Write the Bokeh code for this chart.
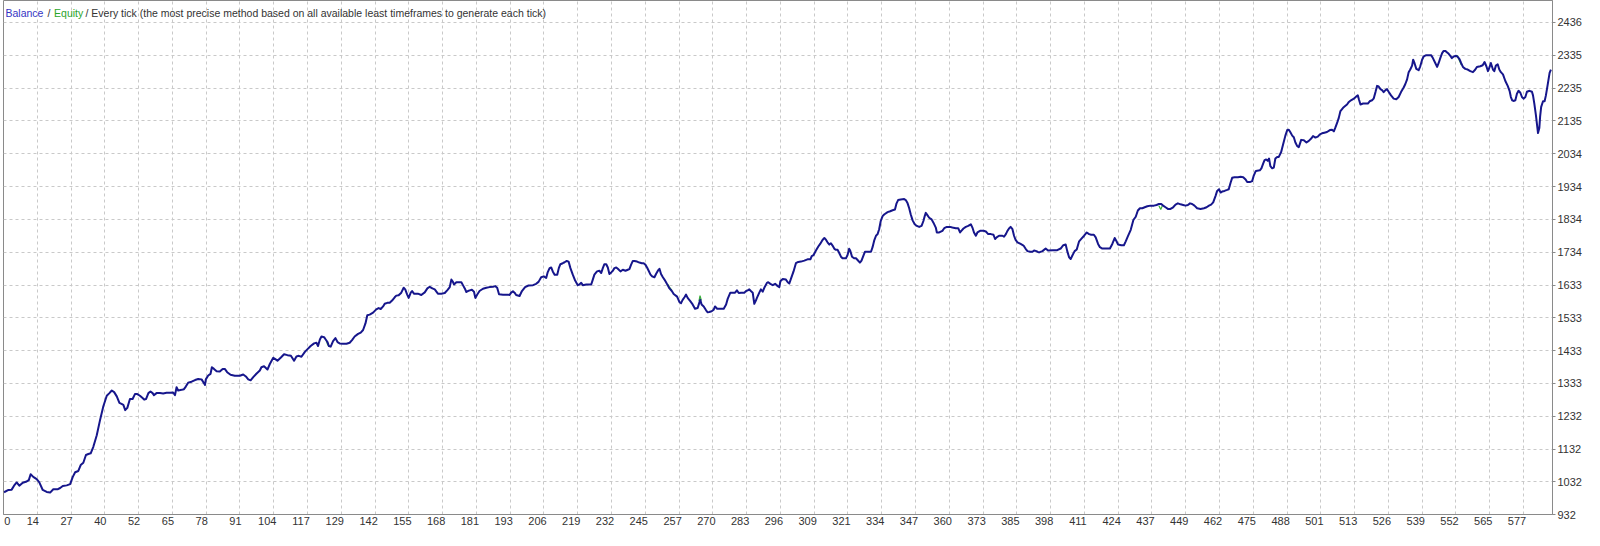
from bokeh.plotting import figure
from bokeh.models import FixedTicker, Label, Range1d
from bokeh.embed import file_html
from bokeh.resources import INLINE

# ---- data (trade number, balance) ----
trade = [
    0.2, 1.9, 3.1, 4.0, 5.0, 6.0, 7.3, 8.8, 9.6, 10.3, 11.3, 12.6, 13.6, 14.9, 16.4, 17.7, 18.9, 20.5, 21.5, 22.5,
    24.0, 25.3, 26.3, 27.2, 28.4, 29.3, 30.3, 31.3, 32.2, 33.1, 34.1, 35.4, 36.6, 37.9, 39.2, 40.2, 41.1, 42.0, 43.0,
    44.0, 44.8, 45.5, 46.2, 47.0, 48.0, 49.0, 49.9, 50.8, 51.8, 52.8, 53.4, 54.1, 55.0, 55.8, 56.6, 57.1, 58.1, 59.4,
    60.6, 61.9, 63.2, 64.4, 65.1, 65.7, 66.3, 67.6, 68.5, 69.2, 70.1, 71.4, 72.7, 73.9, 75.2, 76.1, 76.5, 76.8, 77.7,
    78.6, 79.1, 79.9, 80.9, 82.1, 83.2, 84.0, 84.9, 86.2, 87.8, 89.7, 91.0, 92.0, 92.9, 93.8, 94.8, 96.0, 97.3,
    97.9, 98.9, 100.2, 101.1, 102.4, 103.2, 104.0, 105.3, 106.5, 107.8, 109.1, 110.3, 111.2, 112.1, 113.1, 114.4,
    115.6, 116.6, 117.9, 118.8, 119.4, 120.1, 120.7, 121.7, 122.3, 123.0, 123.5, 124.2, 125.1, 126.0, 126.8, 127.6,
    128.9, 130.2, 131.4, 132.3, 133.3, 134.6, 135.6, 136.5, 137.4, 138.1, 139.0, 140.3, 141.5, 142.4, 143.2, 144.1,
    144.7, 145.7, 146.6, 147.5, 148.5, 149.1, 150.0, 151.0, 151.9, 152.5, 153.2, 153.8, 154.6, 155.1, 155.8, 157.3,
    158.6, 159.9, 160.9, 161.8, 162.8, 163.7, 164.9, 166.2, 167.5, 168.5, 169.4, 170.0, 170.6, 171.0, 171.9, 173.8,
    174.4, 175.1, 175.7, 176.3, 177.0, 177.8, 178.6, 179.1, 179.9, 180.7, 182.0, 183.3, 184.5, 185.8, 186.7, 187.4,
    188.1, 189.6, 191.5, 192.1, 192.7, 193.4, 194.0, 194.6, 195.9,
    196.8, 198.0, 199.3, 201.0, 202.2, 203.1, 204.1, 205.1, 206.0, 206.6, 207.3, 207.9, 208.5, 209.2, 210.2, 210.8,
    211.4, 212.3, 213.0, 213.8, 214.5, 215.2, 216.1, 217.0, 218.0, 218.6, 219.3, 219.9, 221.2, 223.1, 223.7, 224.3,
    225.3, 226.2, 226.9, 227.5, 228.1, 228.8, 229.4, 230.0, 230.7, 231.3, 231.9, 232.6, 233.2, 234.2, 235.1, 236.1,
    237.0, 237.6, 238.2, 238.9, 239.5, 240.5, 241.4, 242.3, 243.0, 243.7, 244.3, 244.9, 245.6, 246.2, 247.1, 247.7,
    248.4, 249.0, 249.6, 250.3, 250.9, 251.5, 252.1, 252.8, 253.7, 254.4, 255.7, 256.6, 257.2, 257.8, 258.5, 259.1,
    259.7, 260.7, 261.6, 262.5, 263.5, 264.2, 264.5, 265.0, 265.8, 266.7, 267.3, 267.9, 268.8, 269.6, 270.1, 270.9,
    271.7, 273.4, 274.3, 274.9, 275.9, 276.8, 277.7, 278.4, 279.1, 280.0, 281.2, 281.9, 282.5, 283.1, 283.7, 284.4,
    285.0, 285.6, 286.0, 286.9, 287.5, 288.2, 288.8, 289.8, 290.3, 291.1, 292.0, 292.9, 293.9, 294.5,
    294.9, 295.8, 297.0, 297.7, 298.3, 298.9, 299.9, 300.8, 301.7, 302.7, 304.0, 305.2, 306.3, 306.8, 307.5, 308.4,
    309.3, 310.0, 310.9, 311.6, 312.2, 312.8, 313.5, 314.1, 314.7, 315.4, 316.0, 316.6, 317.2, 317.9, 318.5, 319.8,
    320.4, 321.0, 321.4, 322.1, 322.9, 323.6, 324.2, 325.1, 325.7, 326.5, 327.0, 328.0, 329.3, 329.9, 330.5, 331.2,
    331.8, 332.4, 333.0, 333.7, 334.3, 335.6, 336.6, 337.5, 338.4, 339.0, 339.6, 340.6, 341.9, 342.5, 343.2, 343.8,
    344.4, 345.1, 345.9, 346.7, 347.6, 348.5, 349.2, 349.7, 350.1, 350.7, 351.4, 352.3, 353.0, 353.9, 354.3, 355.2,
    356.4, 357.1, 358.1, 359.3, 360.2, 361.5, 362.4, 363.1, 363.6, 364.4, 365.3, 366.2, 367.2, 367.8, 368.4, 369.1,
    369.7, 370.7, 372.0, 372.9, 373.8, 374.8, 375.8, 376.4, 377.0, 377.9, 379.2, 379.8, 380.5, 381.1, 381.7, 382.3,
    383.0, 383.6, 384.2, 384.9, 386.1, 387.2, 388.0, 388.7, 389.7, 390.6, 391.2, 392.1, 392.8,
    393.1, 394.4, 395.6, 396.5, 398.2, 400.0, 401.3, 402.3, 403.2, 403.8, 404.5, 405.1, 405.7, 406.6, 407.4, 408.3,
    409.2, 410.2, 411.2, 412.1, 412.9, 413.9, 414.6, 415.5, 416.2, 417.1, 418.4, 420.0, 420.9, 421.8, 422.5, 423.1,
    424.3, 425.3, 426.0, 426.8, 427.9, 428.9, 429.8, 430.6, 431.4, 432.3, 433.2, 434.2, 435.4, 436.7, 437.7, 438.6,
    439.5, 440.2, 441.1, 442.0, 443.0, 444.0, 444.9, 445.8, 446.8, 447.8, 448.7, 449.6, 450.4, 451.2, 452.1, 453.1,
    454.4, 455.7, 456.7, 457.6, 458.4, 459.2, 460.1, 460.7, 461.4, 462.0, 462.6, 463.5, 464.5, 465.1, 465.8, 466.4,
    467.3, 468.6, 469.6, 470.6, 471.5, 472.1, 473.1, 474.0, 474.6, 475.3, 475.9, 476.9, 477.5, 478.2, 478.7, 479.3,
    479.9, 480.4, 480.9, 481.6, 482.2, 482.8, 483.5, 484.1, 485.0, 485.8, 486.6, 487.3, 487.9, 488.5, 489.2, 489.8,
    490.4, 491.1, 491.7,
    492.6, 493.6, 494.6, 495.5, 496.4, 497.1, 498.0, 498.9, 499.7, 500.5, 501.4, 502.4, 503.5, 504.3, 505.0, 505.6,
    506.2, 506.9, 507.5, 508.5, 509.4, 510.0, 510.7, 511.5, 512.6, 513.6, 514.1, 514.5, 515.1, 516.1, 517.0, 517.9,
    518.6, 519.5, 520.1, 520.8, 521.4, 522.0, 522.7, 523.3, 523.9, 524.6, 525.2, 525.8, 526.7, 527.7, 528.7, 529.6,
    530.5, 531.5, 532.1, 532.8, 533.4, 534.0, 534.7, 535.1, 535.6, 536.3, 537.2, 537.8, 538.5, 539.1, 540.1, 541.0,
    541.9, 542.6, 543.5, 544.2, 544.8, 545.4, 546.1, 546.7, 547.3, 547.9, 548.6, 549.2, 549.8, 550.5, 551.4, 552.1,
    552.7, 553.3, 554.0, 554.9, 555.8, 556.8, 557.8, 558.7, 559.3, 560.6, 561.5, 562.2, 562.9, 563.5, 564.1, 564.6,
    565.4, 565.9, 566.5, 567.2, 567.8, 568.4, 569.2, 570.1, 571.0, 571.7, 572.2, 572.7, 573.2, 573.9, 574.5, 575.1,
    575.8, 576.4, 577.0, 577.7, 578.3, 579.3, 580.2, 580.6, 581.1, 581.7, 582.2, 582.5, 583.0, 583.3, 583.7, 584.4,
    585.0, 585.5, 586.1, 586.9, 587.4,
]
balance = [
    1000, 1007, 1008, 1020, 1030, 1020, 1029, 1033, 1037, 1055, 1047, 1040, 1030, 1007, 1001, 999, 1009, 1009, 1013, 1019,
    1021, 1025, 1047, 1061, 1065, 1083, 1090, 1114, 1117, 1119, 1139, 1174, 1219, 1263, 1295, 1303, 1311, 1306, 1293,
    1273, 1270, 1267, 1251, 1258, 1285, 1285, 1300, 1300, 1295, 1288, 1283, 1285, 1303, 1308, 1303, 1297, 1303, 1303,
    1302, 1304, 1304, 1305, 1297, 1321, 1311, 1313, 1315, 1323, 1335, 1338, 1343, 1346, 1345, 1333, 1328, 1345, 1357,
    1362, 1382, 1377, 1370, 1369, 1377, 1377, 1367, 1359, 1356, 1356, 1360, 1354, 1345, 1342, 1352, 1362, 1372,
    1382, 1385, 1375, 1392, 1411, 1407, 1402, 1412, 1422, 1419, 1417, 1402, 1415, 1417, 1414, 1429,
    1439, 1447, 1455, 1457, 1447, 1467, 1476, 1474, 1467, 1459, 1447, 1445, 1462, 1471, 1459, 1455,
    1454, 1454, 1457, 1465, 1476, 1484, 1488, 1496, 1516, 1541, 1543, 1549, 1559, 1563, 1560, 1568,
    1576, 1579, 1579, 1586, 1596, 1601, 1602, 1610, 1625, 1620, 1605, 1594, 1610, 1615, 1607, 1607,
    1603, 1611, 1623, 1628, 1623, 1620, 1607, 1607, 1609, 1618, 1627, 1650, 1643, 1635, 1642, 1642,
    1633, 1623, 1612, 1615, 1617, 1619, 1613, 1594, 1605, 1615, 1622, 1625, 1627, 1628, 1630, 1625,
    1605, 1604, 1604, 1603, 1610, 1614, 1610, 1603, 1600,
    1615, 1627, 1632, 1633, 1637, 1643, 1657, 1660, 1655, 1673, 1685, 1687, 1675, 1665, 1665, 1685,
    1697, 1700, 1703, 1707, 1705, 1685, 1665, 1647, 1633, 1635, 1640, 1633, 1635, 1635, 1650, 1665,
    1675, 1677, 1670, 1685, 1697, 1697, 1687, 1667, 1672, 1677, 1685, 1687, 1683, 1675, 1680, 1677,
    1680, 1682, 1695, 1707, 1707, 1705, 1702, 1700, 1700, 1695, 1687, 1677, 1665, 1660, 1657, 1667,
    1677, 1683, 1667, 1657, 1650, 1642, 1633, 1623, 1615, 1606, 1598, 1581, 1578, 1588, 1596, 1604,
    1594, 1584, 1574, 1561, 1563, 1581, 1588, 1574, 1568, 1556, 1550, 1551, 1553, 1558, 1568, 1561,
    1561, 1561, 1574, 1591, 1610, 1610, 1610, 1617, 1609, 1610, 1610, 1615, 1617, 1620, 1615, 1610,
    1576, 1586, 1594, 1610, 1620, 1613, 1625, 1640, 1642, 1637, 1633, 1637, 1630, 1627,
    1645, 1652, 1650, 1642, 1638, 1652, 1675, 1700, 1704, 1705, 1708, 1712, 1712, 1722, 1725, 1739,
    1751, 1759, 1771, 1777, 1772, 1764, 1757, 1761, 1754, 1744, 1741, 1741, 1732, 1720, 1715, 1715,
    1725, 1744, 1739, 1720, 1715, 1715, 1710, 1702, 1708, 1725, 1735, 1735, 1735, 1749, 1769, 1784,
    1789, 1804, 1829, 1844, 1849, 1856, 1859, 1862, 1864, 1883, 1893, 1895, 1896, 1893, 1883, 1868,
    1849, 1831, 1819, 1814, 1811, 1814, 1829, 1844, 1854, 1847, 1839, 1834, 1824, 1809, 1794, 1794,
    1799, 1807, 1811, 1811, 1809, 1807, 1807, 1794, 1799, 1806, 1811, 1814, 1819, 1809, 1794, 1784,
    1794, 1799, 1799, 1797, 1789, 1789, 1787, 1774, 1779, 1784, 1784, 1781, 1789, 1799, 1806, 1811,
    1804, 1784, 1771, 1764, 1759, 1754, 1744, 1737, 1735, 1735, 1739, 1737, 1734,
    1733, 1737, 1745, 1739, 1740, 1740, 1745, 1755, 1757, 1737, 1718, 1713, 1723, 1737, 1742, 1767,
    1775, 1784, 1794, 1789, 1787, 1787, 1779, 1759, 1749, 1745, 1745, 1745, 1759, 1777, 1767, 1757,
    1755, 1755, 1767, 1782, 1802, 1832, 1842, 1861, 1868, 1868, 1871, 1874, 1876, 1876, 1878, 1881,
    1881, 1876, 1871, 1866, 1866, 1871, 1879, 1883, 1880, 1878, 1876, 1878, 1883, 1881, 1876, 1868,
    1866, 1868, 1871, 1876, 1879, 1886, 1906, 1921, 1926, 1916, 1919, 1921, 1924, 1926, 1946, 1961,
    1963, 1963, 1964, 1963, 1956, 1948, 1948, 1951, 1968, 1981, 1983, 1984, 1990, 2005, 2015, 2017,
    2013, 2020, 1997, 1990, 1992, 2020, 2025, 2025, 2040, 2065, 2090, 2107, 2108, 2100, 2090, 2085,
    2069, 2058, 2055,
    2077, 2076, 2069, 2074, 2081, 2089, 2084, 2087, 2094, 2097, 2099, 2101, 2107, 2108, 2103, 2115,
    2128, 2145, 2165, 2175, 2181, 2185, 2193, 2198, 2203, 2210, 2213, 2201, 2185, 2188, 2188, 2188,
    2195, 2198, 2203, 2223, 2242, 2240, 2232, 2229, 2223, 2229, 2232, 2224, 2213, 2203, 2201, 2208,
    2223, 2237, 2247, 2262, 2284, 2292, 2304, 2322, 2312, 2294, 2290, 2302, 2322, 2332, 2336, 2336,
    2336, 2327, 2312, 2300, 2312, 2327, 2342, 2349, 2349, 2345, 2340, 2334, 2327, 2332, 2334, 2330,
    2324, 2312, 2300, 2294, 2292, 2287, 2284, 2292, 2300, 2302, 2305, 2315, 2302, 2287, 2299, 2312,
    2292, 2287, 2304, 2308, 2292, 2284, 2277, 2257, 2242, 2227, 2208, 2198, 2196, 2198, 2218, 2227,
    2221, 2208, 2203, 2208, 2224, 2227, 2224, 2213, 2188, 2153, 2118, 2098, 2113, 2148, 2178, 2195,
    2195, 2213, 2242, 2282, 2292,
]

# equity only shows where it departs from the balance line
equity_trade = [[122.6, 123.0, 123.5], [252.1, 252.8, 253.7], [264.0, 264.4, 264.9], [438.6, 439.3, 439.9], [551.8, 552.6, 553.4]]
equity_value = [[1462, 1452, 1447], [1636, 1627, 1617], [1584, 1601, 1586], [1876, 1864, 1876], [2336, 2320, 2306]]

x_labels = ["0", "14", "27", "40", "52", "65", "78", "91", "104", "117", "129", "142", "155", "168", "181", "193",
            "206", "219", "232", "245", "257", "270", "283", "296", "309", "321", "334", "347", "360", "373", "385",
            "398", "411", "424", "437", "449", "462", "475", "488", "501", "513", "526", "539", "552", "565", "577"]
y_labels = [932, 1032, 1132, 1232, 1333, 1433, 1533, 1633, 1734, 1834, 1934, 2034, 2135, 2235, 2335, 2436]

legend_parts = ["Balance", "/", "Equity", "/ Every tick (the most precise method based on all available least timeframes to generate each tick)"]
legend_colors = ["#3434c4", "#333333", "#2aa52a", "#333333"]

# ---- layout ----
W, H = 1584, 530
LEFT, RIGHT, BOTTOM = 3, 30, 16
X0, X1 = 0, 588
Y0, Y1 = 932, 2503
FONT = "Liberation Sans"

p = figure(width=W, height=H, output_backend="svg", toolbar_location=None,
           x_range=Range1d(X0, X1), y_range=Range1d(Y0, Y1), y_axis_location="right",
           min_border_left=LEFT, min_border_top=0, min_border_right=RIGHT, min_border_bottom=BOTTOM)
p.background_fill_color = "white"
p.border_fill_color = "white"
p.outline_line_color = "#8a8a8a"

ppu = (W - LEFT - RIGHT) / (X1 - X0)
step = float(x_labels[-1]) / (len(x_labels) - 1)
grid_pos = [i * step for i in range(len(x_labels))]
label_pos = []
for i, lab in enumerate(x_labels):
    if i == 0:
        label_pos.append(round(1.4, 3))
    else:
        label_pos.append(round(grid_pos[i] - (2.0 * len(lab) + 0.5) / ppu, 3))

p.xaxis.ticker = FixedTicker(ticks=label_pos)
p.xaxis.major_label_overrides = {pos: lab for pos, lab in zip(label_pos, x_labels)}
p.xgrid.ticker = FixedTicker(ticks=grid_pos)
p.yaxis.ticker = FixedTicker(ticks=y_labels)
p.yaxis.major_label_overrides = {v: str(v) for v in y_labels}
p.ygrid.ticker = FixedTicker(ticks=y_labels)

for g in (p.xgrid, p.ygrid):
    g.grid_line_color = "#c9c9c9"
    g.grid_line_dash = "3 3"
    g.grid_line_width = 1

for ax in (p.xaxis, p.yaxis):
    ax.axis_line_color = "#8a8a8a"
    ax.major_label_text_font = FONT
    ax.major_label_text_font_size = "11px"
    ax.major_label_text_color = "#333333"
    ax.minor_tick_line_color = None
    ax.axis_label_standoff = 0
p.xaxis.major_tick_out = 0
p.xaxis.major_tick_in = 0
p.xaxis.major_label_standoff = 2
p.yaxis.major_tick_line_color = "#8a8a8a"
p.yaxis.major_tick_out = 3
p.yaxis.major_tick_in = 0
p.yaxis.major_label_standoff = 2

p.multi_line(equity_trade, equity_value, line_color="#39b039", line_width=1.2)
p.line(trade, balance, line_color="#16168c", line_width=2, line_join="round")

# title line
frame_h = H - BOTTOM
xs = [2, 44, 50.6, 82]
for txt, col, x in zip(legend_parts, legend_colors, xs):
    p.add_layout(Label(x=x, y=frame_h - 12, x_units="screen", y_units="screen", text=txt,
                       text_font=FONT, text_font_size="10.5px", text_color=col,
                       text_baseline="middle", text_align="left"))

open("out.html", "w").write(file_html(p, INLINE))
